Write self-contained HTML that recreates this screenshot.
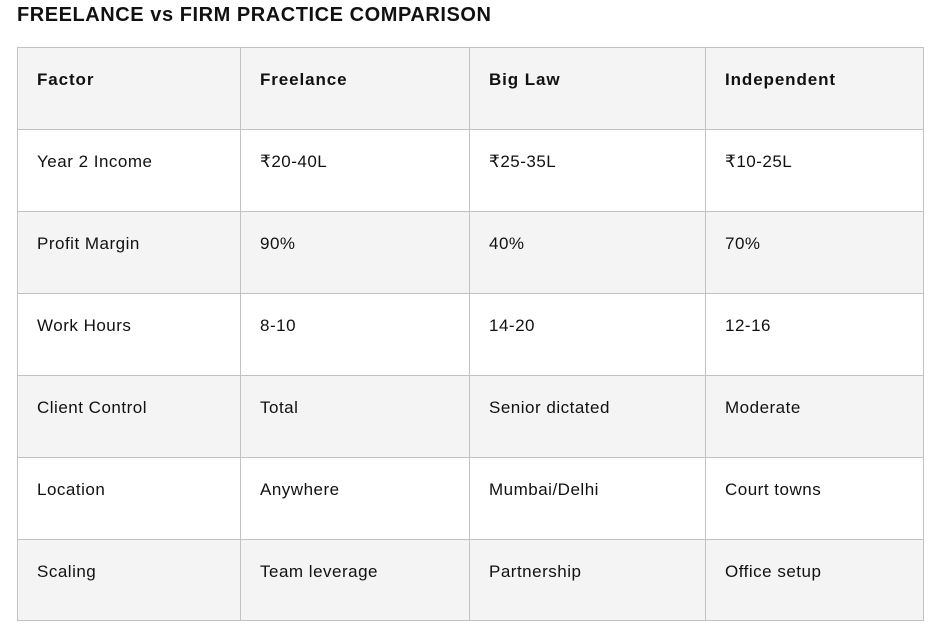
<!DOCTYPE html>
<html><head><meta charset="utf-8"><style>
body{margin:0;width:928px;height:630px;background:#fff;font-family:"Liberation Sans","DejaVu Sans",sans-serif;color:#111;position:relative;overflow:hidden}
h1{position:absolute;left:17px;top:4px;margin:0;font-size:20px;font-weight:bold;letter-spacing:0.55px;color:#111}
table{position:absolute;left:17px;top:47px;border-collapse:collapse;width:906px;table-layout:fixed}
td,th{border:1px solid #c2c2c2;height:81px;padding:0 0 0 19px;vertical-align:top;text-align:left;font-size:17px;line-height:20px;letter-spacing:0.5px}
td div,th div{padding-top:22px}
th{font-weight:bold;background:#f4f4f4;letter-spacing:0.9px}
tr:nth-child(odd) td{background:#f4f4f4}
tr:nth-child(even) td{background:#fff}
tr:last-child td{height:80px}
</style></head><body>
<h1>FREELANCE vs FIRM PRACTICE COMPARISON</h1>
<table>
<colgroup><col style="width:223px"><col style="width:229px"><col style="width:236px"><col style="width:218px"></colgroup>
<tr><th><div>Factor</div></th><th><div>Freelance</div></th><th><div>Big Law</div></th><th><div>Independent</div></th></tr>
<tr><td><div>Year 2 Income</div></td><td><div>₹20-40L</div></td><td><div>₹25-35L</div></td><td><div>₹10-25L</div></td></tr>
<tr><td><div>Profit Margin</div></td><td><div>90%</div></td><td><div>40%</div></td><td><div>70%</div></td></tr>
<tr><td><div>Work Hours</div></td><td><div>8-10</div></td><td><div>14-20</div></td><td><div>12-16</div></td></tr>
<tr><td><div>Client Control</div></td><td><div>Total</div></td><td><div>Senior dictated</div></td><td><div>Moderate</div></td></tr>
<tr><td><div>Location</div></td><td><div>Anywhere</div></td><td><div>Mumbai/Delhi</div></td><td><div>Court towns</div></td></tr>
<tr><td><div>Scaling</div></td><td><div>Team leverage</div></td><td><div>Partnership</div></td><td><div>Office setup</div></td></tr>
</table>
</body></html>
